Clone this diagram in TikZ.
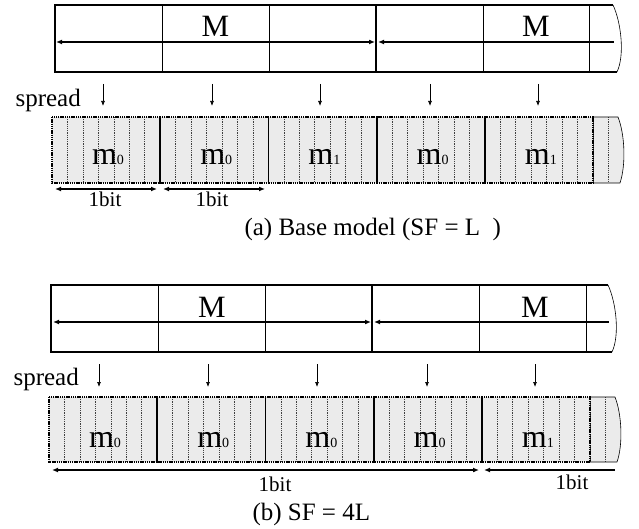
\documentclass[tikz,border=0pt]{standalone}
\usepackage{fontspec}
\setmainfont{Liberation Serif}
\usetikzlibrary{arrows.meta}
\begin{document}
\begin{tikzpicture}[x=1pt,y=-1pt,
  outer/.style={line width=1.8pt},
  inner/.style={line width=0.9pt},
  midline/.style={line width=1.4pt},
  tipL/.style={{Latex[length=6pt,width=5pt]}-},
  tipR/.style={-{Latex[length=6pt,width=5pt]}},
  tipLR/.style={{Latex[length=6pt,width=5pt]}-{Latex[length=6pt,width=5pt]}},
  sarrow/.style={line width=0.7pt,-{Latex[length=5pt,width=4pt]}},
  chipline/.style={line width=0.6pt,dash pattern=on 1.2pt off 1pt,black!75},
  boxborder/.style={line width=1.8pt,dash pattern=on 1.4pt off 0.8pt},
  chipfill/.style={fill=black!8},
  bigM/.style={font=\fontsize{31}{33}\selectfont,anchor=base},
  lbl/.style={font=\fontsize{25}{27}\selectfont,anchor=base},
  bitlbl/.style={font=\fontsize{21}{23}\selectfont,anchor=base},
  mlab/.style={anchor=base,inner sep=0pt}
]
\useasboundingbox (0,0) rectangle (639,529);
\newcommand{\mm}[1]{{\fontsize{32}{32}\selectfont m}{\fontsize{14}{14}\selectfont #1}}

% ---------------- panel (a) ----------------
\draw[outer] (613,5) -- (55,5) -- (55,72) -- (617,72);
\draw[line width=0.6pt] (613,5) .. controls (621,22) and (625,55) .. (617,72);
\foreach \x in {162,269,483,589} \draw[inner] (\x,5) -- (\x,72);
\draw[outer] (376,5) -- (376,72);
\coordinate (aL) at (56,42);
\coordinate (aM1) at (375,42);
\coordinate (aM2) at (378,42);
\coordinate (aR) at (614,42);
\draw[midline,tipLR] (aL) -- (aM1);
\draw[midline,tipL] (aM2) -- (aR);
\node[bigM] (aMa) at (215.5,37) {M};
\node[bigM] (aMb) at (536,37) {M};
\node[lbl,anchor=base west] (aspread) at (12,107) {spread};
\foreach \x [count=\i] in {103,212,320,430,538} {
  \coordinate (as\i) at (\x,84);
  \coordinate (ae\i) at (\x,106);
  \draw[sarrow] (as\i) -- (ae\i);
}
% chip boxes
\fill[chipfill] (52,117) rectangle (593,183);
\fill[chipfill] (593,117) -- (618,117) .. controls (625,135) and (626,165) .. (620,183) -- (593,183) -- cycle;
\foreach \k in {1,...,36} {
  \pgfmathsetmacro{\xc}{52+15.457*\k}
  \draw[chipline] (\xc,117) -- (\xc,183);
}
\foreach \i in {0,...,4} {
  \pgfmathsetmacro{\xa}{52+108.2*\i}
  \pgfmathsetmacro{\xb}{52+108.2*(\i+1)}
  \draw[boxborder] (\xa,117) rectangle (\xb,183);
}
\draw[line width=0.6pt] (593,117) -- (618,117) .. controls (625,135) and (626,165) .. (620,183) -- (593,183);
\foreach \i/\lab in {0/0,1/0,2/1,3/0,4/1} {
  \pgfmathsetmacro{\xm}{52+108.2*\i+56}
  \node[mlab] (am\i) at (\xm,165) {\mm{\lab}};
}
\coordinate (ab1s) at (55,189);
\coordinate (ab1e) at (157,189);
\coordinate (ab2s) at (163,189);
\coordinate (ab2e) at (265,189);
\draw[line width=1.2pt,tipLR] (ab1s) -- (ab1e);
\draw[line width=1.2pt,tipLR] (ab2s) -- (ab2e);
\node[bitlbl] (abit1) at (105,207) {1bit};
\node[bitlbl] (abit2) at (212,207) {1bit};
\node[lbl,anchor=base west] (acap) at (241,236) {(a) Base model (SF = L\ \ )};

% ---------------- panel (b) ----------------
\draw[outer] (608,285) -- (51,285) -- (51,352) -- (612,352);
\draw[line width=0.6pt] (608,285) .. controls (616,302) and (620,335) .. (612,352);
\foreach \x in {158,265,479,586} \draw[inner] (\x,285) -- (\x,352);
\draw[line width=1.1pt] (372,285) -- (372,352);
\coordinate (bL) at (53,322);
\coordinate (bM1) at (371,322);
\coordinate (bM2) at (374,322);
\coordinate (bR) at (609,322);
\draw[midline,tipLR] (bL) -- (bM1);
\draw[midline,tipL] (bM2) -- (bR);
\node[bigM] (bMa) at (212,317) {M};
\node[bigM] (bMb) at (535,317) {M};
\node[lbl,anchor=base west] (bspread) at (10,385) {spread};
\foreach \x [count=\i] in {99,208,317,427,535} {
  \coordinate (bs\i) at (\x,364);
  \coordinate (be\i) at (\x,387);
  \draw[sarrow] (bs\i) -- (be\i);
}
\fill[chipfill] (49,397) rectangle (590,462);
\fill[chipfill] (590,397) -- (615,397) .. controls (622,415) and (623,445) .. (617,462) -- (590,462) -- cycle;
\foreach \k in {1,...,36} {
  \pgfmathsetmacro{\xc}{49+15.457*\k}
  \draw[chipline] (\xc,397) -- (\xc,462);
}
\foreach \i in {0,...,4} {
  \pgfmathsetmacro{\xa}{49+108.2*\i}
  \pgfmathsetmacro{\xb}{49+108.2*(\i+1)}
  \draw[boxborder] (\xa,397) rectangle (\xb,462);
}
\draw[line width=0.6pt] (590,397) -- (615,397) .. controls (622,415) and (623,445) .. (617,462) -- (590,462);
\foreach \i/\lab in {0/0,1/0,2/0,3/0,4/1} {
  \pgfmathsetmacro{\xm}{49+108.2*\i+56}
  \node[mlab] (bm\i) at (\xm,447) {\mm{\lab}};
}
\coordinate (bb1s) at (52,470);
\coordinate (bb1e) at (479,470);
\coordinate (bb2s) at (484,470);
\coordinate (bb2e) at (615,470);
\draw[line width=1.2pt,tipLR] (bb1s) -- (bb1e);
\draw[line width=1.2pt,tipL] (bb2s) -- (bb2e);
\node[bitlbl] (bbit1) at (275,491) {1bit};
\node[bitlbl] (bbit2) at (572,489) {1bit};
\node[lbl,anchor=base west] (bcap) at (249,520) {(b) SF = 4L};
\end{tikzpicture}
\end{document}
